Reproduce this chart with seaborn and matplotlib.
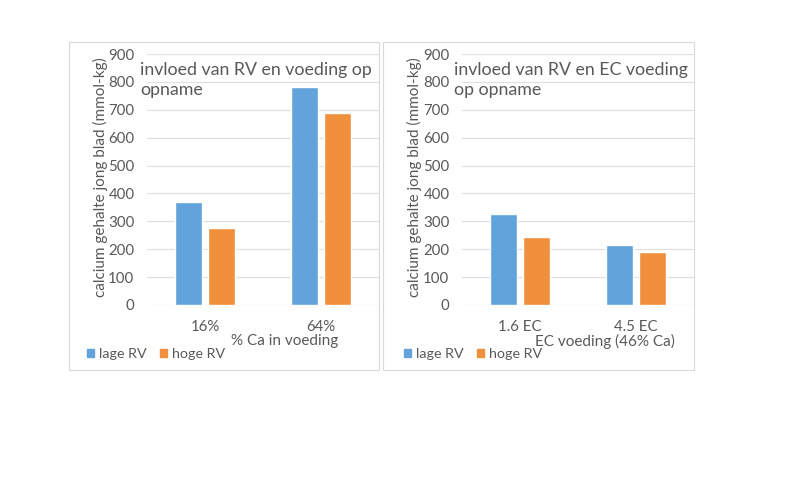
import matplotlib
matplotlib.use("Agg")
import matplotlib.pyplot as plt
import seaborn as sns
import pandas as pd
from matplotlib.patches import Rectangle

# ---- data ----
series = ["lage RV", "hoge RV"]
left_categories = ["16%", "64%"]
left_lage = [370, 780]
left_hoge = [275, 690]
right_categories = ["1.6 EC", "4.5 EC"]
right_lage = [328, 215]
right_hoge = [243, 189]
y_ticks = [0, 100, 200, 300, 400, 500, 600, 700, 800, 900]

left_title = "invloed van RV en voeding op\nopname"
right_title = "invloed van RV en EC voeding\nop opname"
y_label = "calcium gehalte jong blad (mmol-kg)"
left_xlabel = "% Ca in voeding"
right_xlabel = "EC voeding (46% Ca)"

colors = ["#62A3DB", "#F0903D"]
text_color = "#595959"
grid_color = "#E0E0E0"

sns.set_theme(style="white")
plt.rcParams["font.family"] = ["Lato", "DejaVu Sans"]

W, H = 787, 493
fig = plt.figure(figsize=(W / 100, H / 100), dpi=100)
fig.patch.set_facecolor("white")


def fx(px):
    return px / W


def fy(py):
    return 1 - py / H


# panel borders
for (x0, x1) in [(69, 379), (383, 694)]:
    fig.patches.append(Rectangle((fx(x0), fy(370)), fx(x1) - fx(x0), fy(42) - fy(370),
                                 transform=fig.transFigure, fill=False,
                                 edgecolor="#D9D9D9", linewidth=0.8))


def make_panel(ax_left, ax_right, cats, lage, hoge, title, title_x, xlabel, xlabel_x,
               ylabel_x, legend_x):
    ax = fig.add_axes([fx(ax_left), fy(305), fx(ax_right) - fx(ax_left), fy(54) - fy(305)])
    df = pd.DataFrame({
        "cat": cats * 2,
        "val": lage + hoge,
        "serie": [series[0]] * len(cats) + [series[1]] * len(cats),
    })
    sns.barplot(data=df, x="cat", y="val", hue="serie", palette=colors,
                order=cats, hue_order=series, width=0.57, gap=0.21,
                saturation=1, ax=ax, errorbar=None)
    ax.set_ylim(0, 900)
    ax.set_xlim(-0.5, 1.5)
    ax.set_yticks(y_ticks)
    ax.yaxis.grid(True, color=grid_color, linewidth=0.9)
    ax.set_axisbelow(True)
    for s in ["top", "right", "left", "bottom"]:
        ax.spines[s].set_visible(False)
    ax.tick_params(axis="both", length=0, colors=text_color, labelsize=10.8)
    ax.tick_params(axis="y", pad=9)
    ax.tick_params(axis="x", pad=11)
    ax.set_xlabel("")
    ax.set_ylabel("")
    leg = ax.get_legend()
    if leg is not None:
        leg.remove()
    fig.text(fx(title_x), fy(80), title, ha="left", va="center", fontsize=12.8,
             color=text_color, linespacing=1.33)
    fig.text(fx(xlabel_x), fy(341), xlabel, ha="center", va="center", fontsize=11,
             color=text_color)
    fig.text(fx(ylabel_x), fy(177), y_label, ha="center", va="center", rotation=90,
             fontsize=11, color=text_color)
    handles = [Rectangle((0, 0), 1, 1, color=c) for c in colors]
    fig.legend(handles, series, loc="center left",
               bbox_to_anchor=(fx(legend_x), fy(354)), ncol=2, frameon=False,
               handlelength=0.5, handleheight=0.55, handletextpad=0.35,
               columnspacing=0.9, fontsize=10.3, labelcolor=text_color,
               borderpad=0, borderaxespad=0)
    return ax


make_panel(147, 379, left_categories, left_lage, left_hoge, left_title, 140,
           left_xlabel, 285, 100, 87)
make_panel(462, 694, right_categories, right_lage, right_hoge, right_title, 454,
           right_xlabel, 605, 414, 404)

fig.savefig("out.png", dpi=100, facecolor="white")
